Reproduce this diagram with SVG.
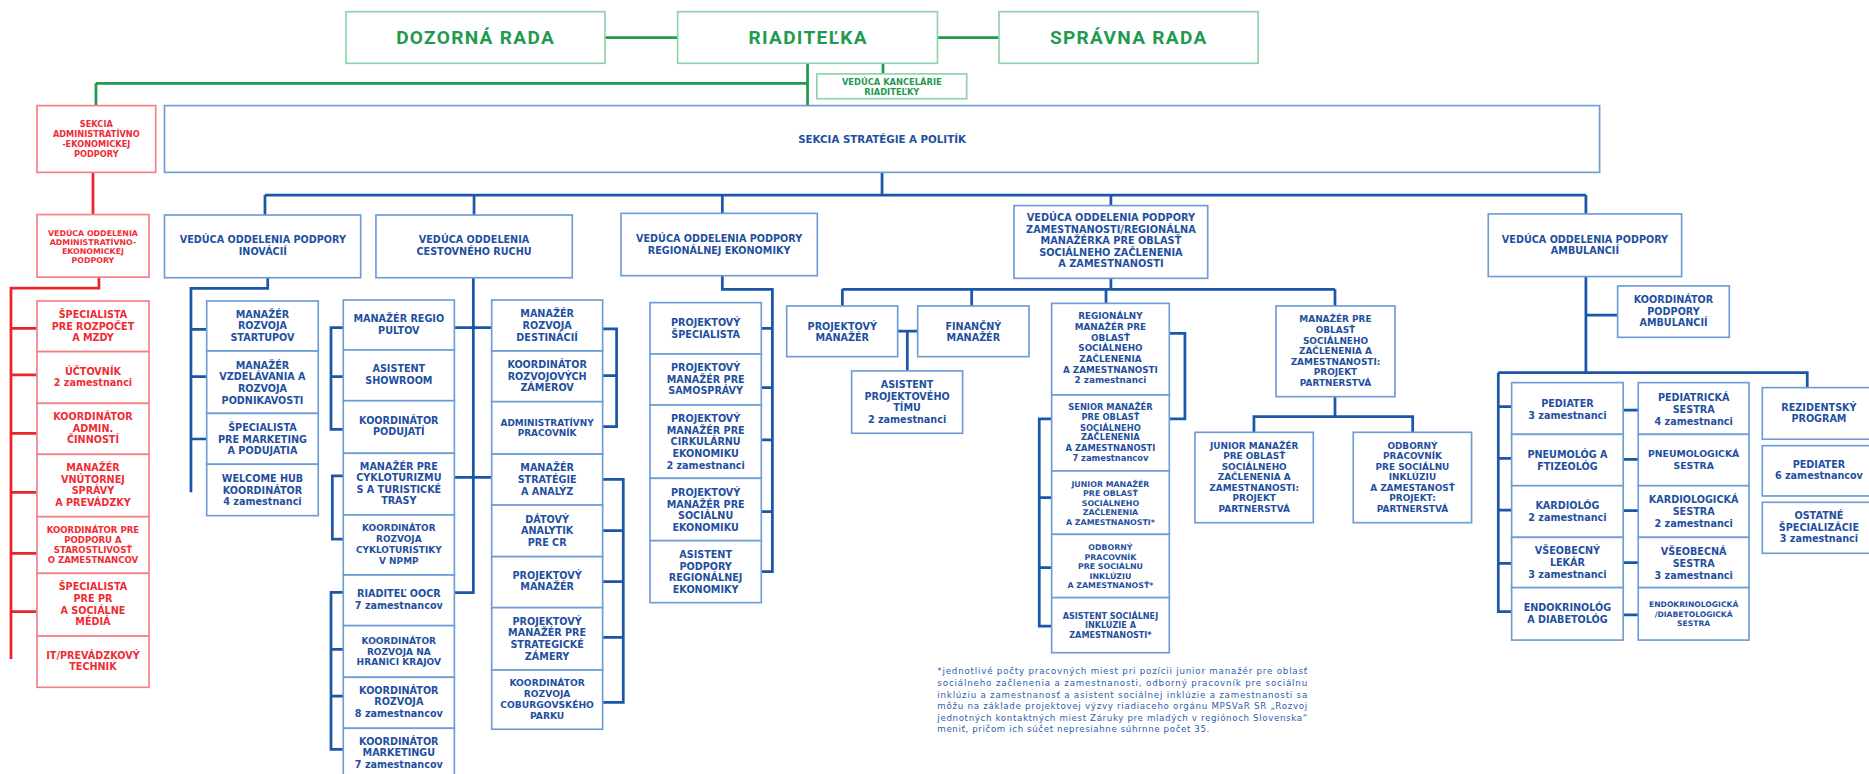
<svg xmlns="http://www.w3.org/2000/svg" width="1869" height="774" viewBox="0 0 1869 774">
<style>
.bx{fill:#fff;stroke:#6e9dd6;stroke-width:1.4}
.rbx{fill:#fff;stroke:#f47f84;stroke-width:1.4}
.gbx{fill:#fff;stroke:#8fd3aa;stroke-width:1.4}
.c{fill:none;stroke-width:2.3;stroke-linejoin:miter}
.cb{stroke:#1c56a8}
.cr{stroke:#e9262d}
.cg{stroke:#1f9a4f}
text{font-family:"DejaVu Sans","Liberation Sans",sans-serif;font-weight:bold;text-anchor:middle}
.tb{fill:#1f4f9f}
.tr{fill:#ef2c34}
.tg{fill:#1f9a4f}
.tt{font-family:Roboto,"Liberation Sans",sans-serif;font-size:16px;letter-spacing:1.1px;fill:#1f9a4f}
.f81{font-size:8.1px}.f82{font-size:8.2px}.f78{font-size:7.8px}.f77{font-size:7.7px}.f76{font-size:7.6px}.f75{font-size:7.5px}.f74{font-size:7.4px}.f72{font-size:7.2px}.f70{font-size:7px}.f69{font-size:6.9px}.f68{font-size:6.8px}.f66{font-size:6.6px}.f64{font-size:6.4px}
.fn{font-family:"DejaVu Sans","Liberation Sans",sans-serif;font-weight:normal;text-anchor:start;font-size:7.3px;fill:#2b5eaa}
</style>
<rect width="1869" height="774" fill="#fff"/>
<g transform="scale(1.19196)">
<g id="connectors">
<path class="c cg" d="M507.5,31.5H568.5M786.5,31.5H838.1M677.5,53.1V88.6M80.5,69.9H677.5M80.5,69.9V88.6M740.8,53.1V62"/>
<path class="c cr" d="M78,144.6V180M83,232.5V241.7H9.2V552.9M9.2,275.5H31M9.2,314.6H31M9.2,363.5H31M9.2,413H31M9.2,464.2H31M9.2,513.2H31"/>
<path class="c cb" d="M740,144.6V163.6M222.3,163.6H1330.5M222.3,163.6V180.4M397.7,163.6V180.4M606,163.6V179M932,163.6V172.5M1330.5,163.6V179.5"/>
<path class="c cb" d="M224.6,233V241.9H160.2V413M160.2,276.3H173.4M160.2,316H173.4M160.2,368.3H173.4"/>
<path class="c cb" d="M397.1,233V497.2H381.2M381.2,274.9H412.5M381.2,400.4H412.5M288,274.9H277.7V360.2H288M277.7,316H288M288,399.3H278.8V452.4H288M288,497H277.7V628.6H288M277.7,544.8H288M277.7,584H288M505.6,276H517.3V358H505.6M505.6,315.2H517.3M505.6,402.1H522.9V589.2H505.6M505.6,445.2H522.9M505.6,488H522.9M505.6,534.7H522.9"/>
<path class="c cb" d="M606,231.3V242.7H648V479.6H638.7M638.7,275.5H648M638.7,325.2H648M638.7,369.1H648M638.7,429.2H648"/>
<path class="c cb" d="M932,233.5V242.7M706.7,242.7H1120M706.7,242.7V256.7M815.2,242.7V256.7M927.9,242.7V254.5M1120,242.7V256.7M753.1,277.7H769.9M761.2,277.7V311.2M981,279.6H994.1V351.5H981M882.3,351.5H871.9V525.2H882.3M871.9,417.5H882.3M871.9,476.3H882.3M1120,332.8V349.6M1052,362.7V349.6H1185.2V362.7"/>
<path class="c cb" d="M1330.5,232V312.7M1330.5,264.3H1357.1M1257,312.7H1516.2V325.2M1257,312.7V513.2H1268.2M1257,341.2H1268.2M1257,384.5H1268.2M1257,427.9H1268.2M1257,472.6H1268.2M1361.8,344H1374.4M1361.8,385.3H1374.4M1361.8,428.4H1374.4M1361.8,472H1374.4M1361.8,515.9H1374.4"/>
</g>
<g id="n-dozorna"><rect class="gbx" x="290.3" y="9.8" width="217.2" height="43.3"/><text class="tt" x="399" y="37.2">DOZORNÁ RADA</text></g>
<g id="n-riaditelka"><rect class="gbx" x="568.5" y="9.8" width="218" height="43.3"/><text class="tt" x="678" y="37.2">RIADITEĽKA</text></g>
<g id="n-spravna"><rect class="gbx" x="838.1" y="9.8" width="217.4" height="43.3"/><text class="tt" x="947" y="37.2">SPRÁVNA RADA</text></g>
<g id="n-kancelaria"><rect class="gbx" x="685.3" y="62" width="125.7" height="20.8"/><text class="tg f70"><tspan x="748.2" y="71.1">VEDÚCA KANCELÁRIE</tspan><tspan x="748.2" y="80.1">RIADITEĽKY</tspan></text></g>
<g id="n-sekcia-strategie"><rect class="bx" x="138" y="88.6" width="1204" height="56"/><text class="tb" style="font-size:8.6px" x="740" y="120.1">SEKCIA STRATÉGIE A POLITÍK</text></g>
<g id="n-sekcia-admin"><rect class="rbx" x="31" y="88.6" width="99.6" height="56"/><text class="tr f69"><tspan x="80.8" y="106.8">SEKCIA</tspan><tspan x="80.8" y="115.2">ADMINISTRATÍVNO</tspan><tspan x="80.8" y="123.6">-EKONOMICKEJ</tspan><tspan x="80.8" y="132">PODPORY</tspan></text></g>
<g id="n-veduca-admin"><rect class="rbx" x="31" y="180" width="94" height="52.5"/><text class="tr f66"><tspan x="78" y="197.6">VEDÚCA ODDELENIA</tspan><tspan x="78" y="205.2">ADMINISTRATÍVNO-</tspan><tspan x="78" y="213">EKONOMICKEJ</tspan><tspan x="78" y="220.8">PODPORY</tspan></text></g>
<g id="n-r1"><rect class="rbx" x="31" y="252.5" width="94" height="42.5"/><text class="tr f81"><tspan x="78" y="266.7">ŠPECIALISTA</tspan><tspan x="78" y="276.5">PRE ROZPOČET</tspan><tspan x="78" y="286.3">A MZDY</tspan></text></g>
<g id="n-r2"><rect class="rbx" x="31" y="295" width="94" height="43.4"/><text class="tr f81"><tspan x="78" y="314.2">ÚČTOVNÍK</tspan><tspan x="78" y="324">2 zamestnanci</tspan></text></g>
<g id="n-r3"><rect class="rbx" x="31" y="338.4" width="94" height="42.8"/><text class="tr f81"><tspan x="78" y="352.5">KOORDINÁTOR</tspan><tspan x="78" y="362.3">ADMIN.</tspan><tspan x="78" y="371.7">ČINNOSTÍ</tspan></text></g>
<g id="n-r4"><rect class="rbx" x="31" y="381.2" width="94" height="52.3"/><text class="tr f81"><tspan x="78" y="395.3">MANAŽÉR</tspan><tspan x="78" y="405.1">VNÚTORNEJ</tspan><tspan x="78" y="414.7">SPRÁVY</tspan><tspan x="78" y="424.4">A PREVÁDZKY</tspan></text></g>
<g id="n-r5"><rect class="rbx" x="31" y="433.5" width="94" height="47.5"/><text class="tr f72"><tspan x="78" y="447.2">KOORDINÁTOR PRE</tspan><tspan x="78" y="455.6">PODPORU A</tspan><tspan x="78" y="464.2">STAROSTLIVOSŤ</tspan><tspan x="78" y="472.6">O ZAMESTNANCOV</tspan></text></g>
<g id="n-r6"><rect class="rbx" x="31" y="481" width="94" height="52.6"/><text class="tr f81"><tspan x="78" y="495.2">ŠPECIALISTA</tspan><tspan x="78" y="505">PRE PR</tspan><tspan x="78" y="514.7">A SOCIÁLNE</tspan><tspan x="78" y="524.5">MÉDIÁ</tspan></text></g>
<g id="n-r7"><rect class="rbx" x="31" y="533.6" width="94" height="43"/><text class="tr f81"><tspan x="78" y="553.2">IT/PREVÁDZKOVÝ</tspan><tspan x="78" y="562.3">TECHNIK</tspan></text></g>
<g id="n-d1"><rect class="bx" x="138" y="180.4" width="164.6" height="52.6"/><text class="tb f81"><tspan x="220.5" y="204.2">VEDÚCA ODDELENIA PODPORY</tspan><tspan x="220.5" y="214">INOVÁCIÍ</tspan></text></g>
<g id="n-d2"><rect class="bx" x="315.4" y="180.4" width="164.7" height="52.6"/><text class="tb f81"><tspan x="397.7" y="204.2">VEDÚCA ODDELENIA</tspan><tspan x="397.7" y="214">CESTOVNÉHO RUCHU</tspan></text></g>
<g id="n-d3"><rect class="bx" x="521" y="179" width="164.7" height="52.3"/><text class="tb f81"><tspan x="603.3" y="203">VEDÚCA ODDELENIA PODPORY</tspan><tspan x="603.3" y="212.7">REGIONÁLNEJ EKONOMIKY</tspan></text></g>
<g id="n-d4"><rect class="bx" x="850.7" y="172.5" width="162.5" height="61"/><text class="tb f82"><tspan x="932" y="185.6">VEDÚCA ODDELENIA PODPORY</tspan><tspan x="932" y="195.4">ZAMESTNANOSTI/REGIONÁLNA</tspan><tspan x="932" y="204.9">MANAŽÉRKA PRE OBLASŤ</tspan><tspan x="932" y="214.4">SOCIÁLNEHO ZAČLENENIA</tspan><tspan x="932" y="223.9">A ZAMESTNANOSTI</tspan></text></g>
<g id="n-d5"><rect class="bx" x="1248.6" y="179.5" width="162.2" height="52.5"/><text class="tb f81"><tspan x="1329.7" y="203.5">VEDÚCA ODDELENIA PODPORY</tspan><tspan x="1329.7" y="213.3">AMBULANCIÍ</tspan></text></g>
<g id="n-i1"><rect class="bx" x="173.4" y="252.5" width="93.6" height="42"/><text class="tb f81"><tspan x="220.2" y="266.4">MANAŽÉR</tspan><tspan x="220.2" y="276.2">ROZVOJA</tspan><tspan x="220.2" y="285.7">STARTUPOV</tspan></text></g>
<g id="n-i2"><rect class="bx" x="173.4" y="294.5" width="93.6" height="52.3"/><text class="tb f81"><tspan x="220.2" y="309.2">MANAŽÉR</tspan><tspan x="220.2" y="319">VZDELÁVANIA A</tspan><tspan x="220.2" y="328.8">ROZVOJA</tspan><tspan x="220.2" y="338.6">PODNIKAVOSTI</tspan></text></g>
<g id="n-i3"><rect class="bx" x="173.4" y="346.8" width="93.6" height="42.7"/><text class="tb f81"><tspan x="220.2" y="361.5">ŠPECIALISTA</tspan><tspan x="220.2" y="371.5">PRE MARKETING</tspan><tspan x="220.2" y="381.1">A PODUJATIA</tspan></text></g>
<g id="n-i4"><rect class="bx" x="173.4" y="389.5" width="93.6" height="43.1"/><text class="tb f81"><tspan x="220.2" y="404.6">WELCOME HUB</tspan><tspan x="220.2" y="414.3">KOORDINÁTOR</tspan><tspan x="220.2" y="423.9">4 zamestnanci</tspan></text></g>
<g id="n-c1"><rect class="bx" x="288" y="251.7" width="93.2" height="41.9"/><text class="tb f81"><tspan x="334.6" y="270">MANAŽÉR REGIO</tspan><tspan x="334.6" y="279.8">PULTOV</tspan></text></g>
<g id="n-c2"><rect class="bx" x="288" y="293.6" width="93.2" height="42.6"/><text class="tb f81"><tspan x="334.6" y="312.2">ASISTENT</tspan><tspan x="334.6" y="322">SHOWROOM</tspan></text></g>
<g id="n-c3"><rect class="bx" x="288" y="336.2" width="93.2" height="44.1"/><text class="tb f81"><tspan x="334.6" y="355.3">KOORDINÁTOR</tspan><tspan x="334.6" y="365.1">PODUJATÍ</tspan></text></g>
<g id="n-c4"><rect class="bx" x="288" y="380.3" width="93.2" height="51.7"/><text class="tb f81"><tspan x="334.6" y="394">MANAŽÉR PRE</tspan><tspan x="334.6" y="403.4">CYKLOTURIZMU</tspan><tspan x="334.6" y="413.2">S A TURISTICKÉ</tspan><tspan x="334.6" y="423">TRASY</tspan></text></g>
<g id="n-c5"><rect class="bx" x="288" y="432" width="93.2" height="50.4"/><text class="tb f75"><tspan x="334.6" y="445.9">KOORDINÁTOR</tspan><tspan x="334.6" y="454.9">ROZVOJA</tspan><tspan x="334.6" y="464.1">CYKLOTURISTIKY</tspan><tspan x="334.6" y="473.1">V NPMP</tspan></text></g>
<g id="n-c6"><rect class="bx" x="288" y="482.4" width="93.2" height="42.5"/><text class="tb f81"><tspan x="334.6" y="501">RIADITEĽ OOCR</tspan><tspan x="334.6" y="510.8">7 zamestnancov</tspan></text></g>
<g id="n-c7"><rect class="bx" x="288" y="524.9" width="93.2" height="43.3"/><text class="tb f76"><tspan x="334.6" y="540.3">KOORDINÁTOR</tspan><tspan x="334.6" y="549.5">ROZVOJA NA</tspan><tspan x="334.6" y="558.2">HRANICI KRAJOV</tspan></text></g>
<g id="n-c8"><rect class="bx" x="288" y="568.2" width="93.2" height="42.8"/><text class="tb f81"><tspan x="334.6" y="581.9">KOORDINÁTOR</tspan><tspan x="334.6" y="591.7">ROZVOJA</tspan><tspan x="334.6" y="601.4">8 zamestnancov</tspan></text></g>
<g id="n-c9"><rect class="bx" x="288" y="611" width="93.2" height="44"/><text class="tb f81"><tspan x="334.6" y="625.2">KOORDINÁTOR</tspan><tspan x="334.6" y="634.5">MARKETINGU</tspan><tspan x="334.6" y="644.2">7 zamestnancov</tspan></text></g>
<g id="n-k1"><rect class="bx" x="412.5" y="251.7" width="93.1" height="42.8"/><text class="tb f81"><tspan x="459" y="265.9">MANAŽÉR</tspan><tspan x="459" y="275.9">ROZVOJA</tspan><tspan x="459" y="285.7">DESTINÁCIÍ</tspan></text></g>
<g id="n-k2"><rect class="bx" x="412.5" y="294.5" width="93.1" height="42.5"/><text class="tb f81"><tspan x="459" y="308.6">KOORDINÁTOR</tspan><tspan x="459" y="318.4">ROZVOJOVÝCH</tspan><tspan x="459" y="328.2">ZÁMEROV</tspan></text></g>
<g id="n-k3"><rect class="bx" x="412.5" y="337" width="93.1" height="44"/><text class="tb f75"><tspan x="459" y="357">ADMINISTRATÍVNY</tspan><tspan x="459" y="365.4">PRACOVNÍK</tspan></text></g>
<g id="n-k4"><rect class="bx" x="412.5" y="381" width="93.1" height="42.7"/><text class="tb f81"><tspan x="459" y="395">MANAŽÉR</tspan><tspan x="459" y="405.1">STRATÉGIE</tspan><tspan x="459" y="414.9">A ANALÝZ</tspan></text></g>
<g id="n-k5"><rect class="bx" x="412.5" y="423.7" width="93.1" height="43.3"/><text class="tb f81"><tspan x="459" y="438.4">DÁTOVÝ</tspan><tspan x="459" y="448.2">ANALYTIK</tspan><tspan x="459" y="458">PRE CR</tspan></text></g>
<g id="n-k6"><rect class="bx" x="412.5" y="467" width="93.1" height="42.8"/><text class="tb f81"><tspan x="459" y="486">PROJEKTOVÝ</tspan><tspan x="459" y="495.4">MANAŽÉR</tspan></text></g>
<g id="n-k7"><rect class="bx" x="412.5" y="509.8" width="93.1" height="52.3"/><text class="tb f81"><tspan x="459" y="524">PROJEKTOVÝ</tspan><tspan x="459" y="533.8">MANAŽÉR PRE</tspan><tspan x="459" y="543.5">STRATEGICKÉ</tspan><tspan x="459" y="553.3">ZÁMERY</tspan></text></g>
<g id="n-k8"><rect class="bx" x="412.5" y="562.1" width="93.1" height="49.7"/><text class="tb f77"><tspan x="459" y="575.2">KOORDINÁTOR</tspan><tspan x="459" y="584.4">ROZVOJA</tspan><tspan x="459" y="593.7">COBURGOVSKÉHO</tspan><tspan x="459" y="602.9">PARKU</tspan></text></g>
<g id="n-e1"><rect class="bx" x="545.3" y="253.9" width="93.4" height="43.1"/><text class="tb f81"><tspan x="592" y="273.4">PROJEKTOVÝ</tspan><tspan x="592" y="283.2">ŠPECIALISTA</tspan></text></g>
<g id="n-e2"><rect class="bx" x="545.3" y="297" width="93.4" height="42.8"/><text class="tb f81"><tspan x="592" y="311.2">PROJEKTOVÝ</tspan><tspan x="592" y="321">MANAŽÉR PRE</tspan><tspan x="592" y="330.8">SAMOSPRÁVY</tspan></text></g>
<g id="n-e3"><rect class="bx" x="545.3" y="339.8" width="93.4" height="61.5"/><text class="tb f81"><tspan x="592" y="354">PROJEKTOVÝ</tspan><tspan x="592" y="363.7">MANAŽÉR PRE</tspan><tspan x="592" y="373.5">CIRKULÁRNU</tspan><tspan x="592" y="383.3">EKONOMIKU</tspan><tspan x="592" y="393.1">2 zamestnanci</tspan></text></g>
<g id="n-e4"><rect class="bx" x="545.3" y="401.3" width="93.4" height="52.3"/><text class="tb f81"><tspan x="592" y="416">PROJEKTOVÝ</tspan><tspan x="592" y="425.8">MANAŽÉR PRE</tspan><tspan x="592" y="435.6">SOCIÁLNU</tspan><tspan x="592" y="445.4">EKONOMIKU</tspan></text></g>
<g id="n-e5"><rect class="bx" x="545.3" y="453.6" width="93.4" height="52"/><text class="tb f81"><tspan x="592" y="468">ASISTENT</tspan><tspan x="592" y="477.8">PODPORY</tspan><tspan x="592" y="487.6">REGIONÁLNEJ</tspan><tspan x="592" y="497.4">EKONOMIKY</tspan></text></g>
<g id="n-z-pm"><rect class="bx" x="660" y="256.7" width="93.1" height="42.5"/><text class="tb f81"><tspan x="706.6" y="276.5">PROJEKTOVÝ</tspan><tspan x="706.6" y="286">MANAŽÉR</tspan></text></g>
<g id="n-z-fm"><rect class="bx" x="769.9" y="256.7" width="93.4" height="42.5"/><text class="tb f81"><tspan x="816.6" y="276.5">FINANČNÝ</tspan><tspan x="816.6" y="286">MANAŽÉR</tspan></text></g>
<g id="n-z-asist"><rect class="bx" x="714.5" y="311.2" width="93.1" height="52.3"/><text class="tb f81"><tspan x="761" y="325.4">ASISTENT</tspan><tspan x="761" y="335.2">PROJEKTOVÉHO</tspan><tspan x="761" y="345">TÍMU</tspan><tspan x="761" y="354.8">2 zamestnanci</tspan></text></g>
<g id="n-z1"><rect class="bx" x="882.3" y="254.5" width="98.7" height="76.9"/><text class="tb f74"><tspan x="931.6" y="267.8">REGIONÁLNY</tspan><tspan x="931.6" y="276.8">MANAŽÉR PRE</tspan><tspan x="931.6" y="285.7">OBLASŤ</tspan><tspan x="931.6" y="294.4">SOCIÁLNEHO</tspan><tspan x="931.6" y="303.6">ZAČLENENIA</tspan><tspan x="931.6" y="312.8">A ZAMESTNANOSTI</tspan><tspan x="931.6" y="321.7">2 zamestnanci</tspan></text></g>
<g id="n-z2"><rect class="bx" x="882.3" y="331.4" width="98.7" height="63.7"/><text class="tb f70"><tspan x="931.6" y="344.3">SENIOR MANAŽÉR</tspan><tspan x="931.6" y="352.7">PRE OBLASŤ</tspan><tspan x="931.6" y="361.4">SOCIÁLNEHO</tspan><tspan x="931.6" y="369.5">ZAČLENENIA</tspan><tspan x="931.6" y="378.2">A ZAMESTNANOSTI</tspan><tspan x="931.6" y="386.6">7 zamestnancov</tspan></text></g>
<g id="n-z3"><rect class="bx" x="882.3" y="395.1" width="98.7" height="53.2"/><text class="tb f66"><tspan x="931.6" y="408.4">JUNIOR MANAŽÉR</tspan><tspan x="931.6" y="416.2">PRE OBLASŤ</tspan><tspan x="931.6" y="424.1">SOCIÁLNEHO</tspan><tspan x="931.6" y="432.2">ZAČLENENIA</tspan><tspan x="931.6" y="440.1">A ZAMESTNANOSTI*</tspan></text></g>
<g id="n-z4"><rect class="bx" x="882.3" y="448.3" width="98.7" height="53.1"/><text class="tb f66"><tspan x="931.6" y="461.6">ODBORNÝ</tspan><tspan x="931.6" y="469.4">PRACOVNÍK</tspan><tspan x="931.6" y="477.2">PRE SOCIÁLNU</tspan><tspan x="931.6" y="485.4">INKLÚZIU</tspan><tspan x="931.6" y="493.2">A ZAMESTNANOSŤ*</tspan></text></g>
<g id="n-z5"><rect class="bx" x="882.3" y="501.4" width="98.7" height="46.2"/><text class="tb f68"><tspan x="931.6" y="519">ASISTENT SOCIÁLNEJ</tspan><tspan x="931.6" y="527.1">INKLÚZIE A</tspan><tspan x="931.6" y="535">ZAMESTNANOSTI*</tspan></text></g>
<g id="n-z-mpo"><rect class="bx" x="1070.5" y="256.7" width="99.8" height="76.1"/><text class="tb f75"><tspan x="1120.4" y="270.3">MANAŽÉR PRE</tspan><tspan x="1120.4" y="279.5">OBLASŤ</tspan><tspan x="1120.4" y="288.2">SOCIÁLNEHO</tspan><tspan x="1120.4" y="297.4">ZAČLENENIA A</tspan><tspan x="1120.4" y="306.4">ZAMESTNANOSTI:</tspan><tspan x="1120.4" y="315">PROJEKT</tspan><tspan x="1120.4" y="323.7">PARTNERSTVÁ</tspan></text></g>
<g id="n-z-jun"><rect class="bx" x="1002.5" y="362.7" width="99.3" height="75.8"/><text class="tb f75"><tspan x="1052.2" y="376.6">JUNIOR MANAŽÉR</tspan><tspan x="1052.2" y="385.3">PRE OBLASŤ</tspan><tspan x="1052.2" y="394.2">SOCIÁLNEHO</tspan><tspan x="1052.2" y="402.9">ZAČLENENIA A</tspan><tspan x="1052.2" y="411.8">ZAMESTNANOSTI:</tspan><tspan x="1052.2" y="420.7">PROJEKT</tspan><tspan x="1052.2" y="429.7">PARTNERSTVÁ</tspan></text></g>
<g id="n-z-odb"><rect class="bx" x="1135.3" y="362.7" width="99.3" height="75.8"/><text class="tb f75"><tspan x="1185" y="376.6">ODBORNÝ</tspan><tspan x="1185" y="385.3">PRACOVNÍK</tspan><tspan x="1185" y="394.2">PRE SOCIÁLNU</tspan><tspan x="1185" y="402.9">INKLÚZIU</tspan><tspan x="1185" y="411.8">A ZAMESTANOSŤ</tspan><tspan x="1185" y="420.7">PROJEKT:</tspan><tspan x="1185" y="429.7">PARTNERSTVÁ</tspan></text></g>
<g id="n-a-koord"><rect class="bx" x="1357.1" y="239.9" width="93.7" height="43.1"/><text class="tb f81"><tspan x="1404" y="254.1">KOORDINÁTOR</tspan><tspan x="1404" y="263.9">PODPORY</tspan><tspan x="1404" y="273.7">AMBULANCIÍ</tspan></text></g>
<g id="n-a1"><rect class="bx" x="1268.2" y="321" width="93.6" height="43.4"/><text class="tb f81"><tspan x="1315" y="341.4">PEDIATER</tspan><tspan x="1315" y="351.2">3 zamestnanci</tspan></text></g>
<g id="n-a2"><rect class="bx" x="1268.2" y="364.4" width="93.6" height="43.1"/><text class="tb f81"><tspan x="1315" y="384.2">PNEUMOLÓG A</tspan><tspan x="1315" y="394">FTIZEOLÓG</tspan></text></g>
<g id="n-a3"><rect class="bx" x="1268.2" y="407.5" width="93.6" height="43.3"/><text class="tb f81"><tspan x="1315" y="427.2">KARDIOLÓG</tspan><tspan x="1315" y="437">2 zamestnanci</tspan></text></g>
<g id="n-a4"><rect class="bx" x="1268.2" y="450.8" width="93.6" height="42.2"/><text class="tb f81"><tspan x="1315" y="465">VŠEOBECNÝ</tspan><tspan x="1315" y="474.8">LEKÁR</tspan><tspan x="1315" y="484.8">3 zamestnanci</tspan></text></g>
<g id="n-a5"><rect class="bx" x="1268.2" y="493" width="93.6" height="44"/><text class="tb f81"><tspan x="1315" y="512.5">ENDOKRINOLÓG</tspan><tspan x="1315" y="522.3">A DIABETOLÓG</tspan></text></g>
<g id="n-b1"><rect class="bx" x="1374.4" y="321" width="92.9" height="43.4"/><text class="tb f81"><tspan x="1420.9" y="336.3">PEDIATRICKÁ</tspan><tspan x="1420.9" y="346.4">SESTRA</tspan><tspan x="1420.9" y="356.2">4 zamestnanci</tspan></text></g>
<g id="n-b2"><rect class="bx" x="1374.4" y="364.4" width="92.9" height="43.1"/><text class="tb f78"><tspan x="1420.9" y="383.7">PNEUMOLOGICKÁ</tspan><tspan x="1420.9" y="393.5">SESTRA</tspan></text></g>
<g id="n-b3"><rect class="bx" x="1374.4" y="407.5" width="92.9" height="43.3"/><text class="tb f81"><tspan x="1420.9" y="421.9">KARDIOLOGICKÁ</tspan><tspan x="1420.9" y="431.9">SESTRA</tspan><tspan x="1420.9" y="442">2 zamestnanci</tspan></text></g>
<g id="n-b4"><rect class="bx" x="1374.4" y="450.8" width="92.9" height="42.2"/><text class="tb f81"><tspan x="1420.9" y="465.8">VŠEOBECNÁ</tspan><tspan x="1420.9" y="475.9">SESTRA</tspan><tspan x="1420.9" y="486">3 zamestnanci</tspan></text></g>
<g id="n-b5"><rect class="bx" x="1374.4" y="493" width="92.9" height="44"/><text class="tb f64"><tspan x="1420.9" y="509.6">ENDOKRINOLOGICKÁ</tspan><tspan x="1420.9" y="517.4">/DIABETOLOGICKÁ</tspan><tspan x="1420.9" y="525.3">SESTRA</tspan></text></g>
<g id="n-c-rez"><rect class="bx" x="1478.5" y="325.2" width="96" height="43.3"/><text class="tb f81"><tspan x="1526" y="344.7">REZIDENTSKÝ</tspan><tspan x="1526" y="354">PROGRAM</tspan></text></g>
<g id="n-c-ped"><rect class="bx" x="1478.5" y="373.9" width="96" height="42.2"/><text class="tb f81"><tspan x="1526" y="392.3">PEDIATER</tspan><tspan x="1526" y="402.1">6 zamestnancov</tspan></text></g>
<g id="n-c-ost"><rect class="bx" x="1478.5" y="421.4" width="96" height="42.8"/><text class="tb f81"><tspan x="1526" y="435.3">OSTATNÉ</tspan><tspan x="1526" y="445.1">ŠPECIALIZÁCIE</tspan><tspan x="1526" y="454.9">3 zamestnanci</tspan></text></g>
<g id="footnote">
<text class="fn" x="786.4" y="565.3" textLength="310.3" lengthAdjust="spacing">*jednotlivé počty pracovných miest pri pozícii junior manažér pre oblasť</text>
<text class="fn" x="786.4" y="575.4" textLength="310.3" lengthAdjust="spacing">sociálneho začlenenia a zamestnanosti, odborný pracovník pre sociálnu</text>
<text class="fn" x="786.4" y="585.2" textLength="310.3" lengthAdjust="spacing">inklúziu a zamestnanosť a asistent sociálnej inklúzie a zamestnanosti sa</text>
<text class="fn" x="786.4" y="595" textLength="310.3" lengthAdjust="spacing">môžu na základe projektovej výzvy riadiaceho orgánu MPSVaR SR „Rozvoj</text>
<text class="fn" x="786.4" y="604.8" textLength="310.3" lengthAdjust="spacing">jednotných kontaktných miest Záruky pre mladých v regiónoch Slovenska“</text>
<text class="fn" x="786.4" y="614.5" textLength="228.2" lengthAdjust="spacing">meniť, pričom ich súčet nepresiahne súhrnne počet 35.</text>
</g>
</g>
</svg>
